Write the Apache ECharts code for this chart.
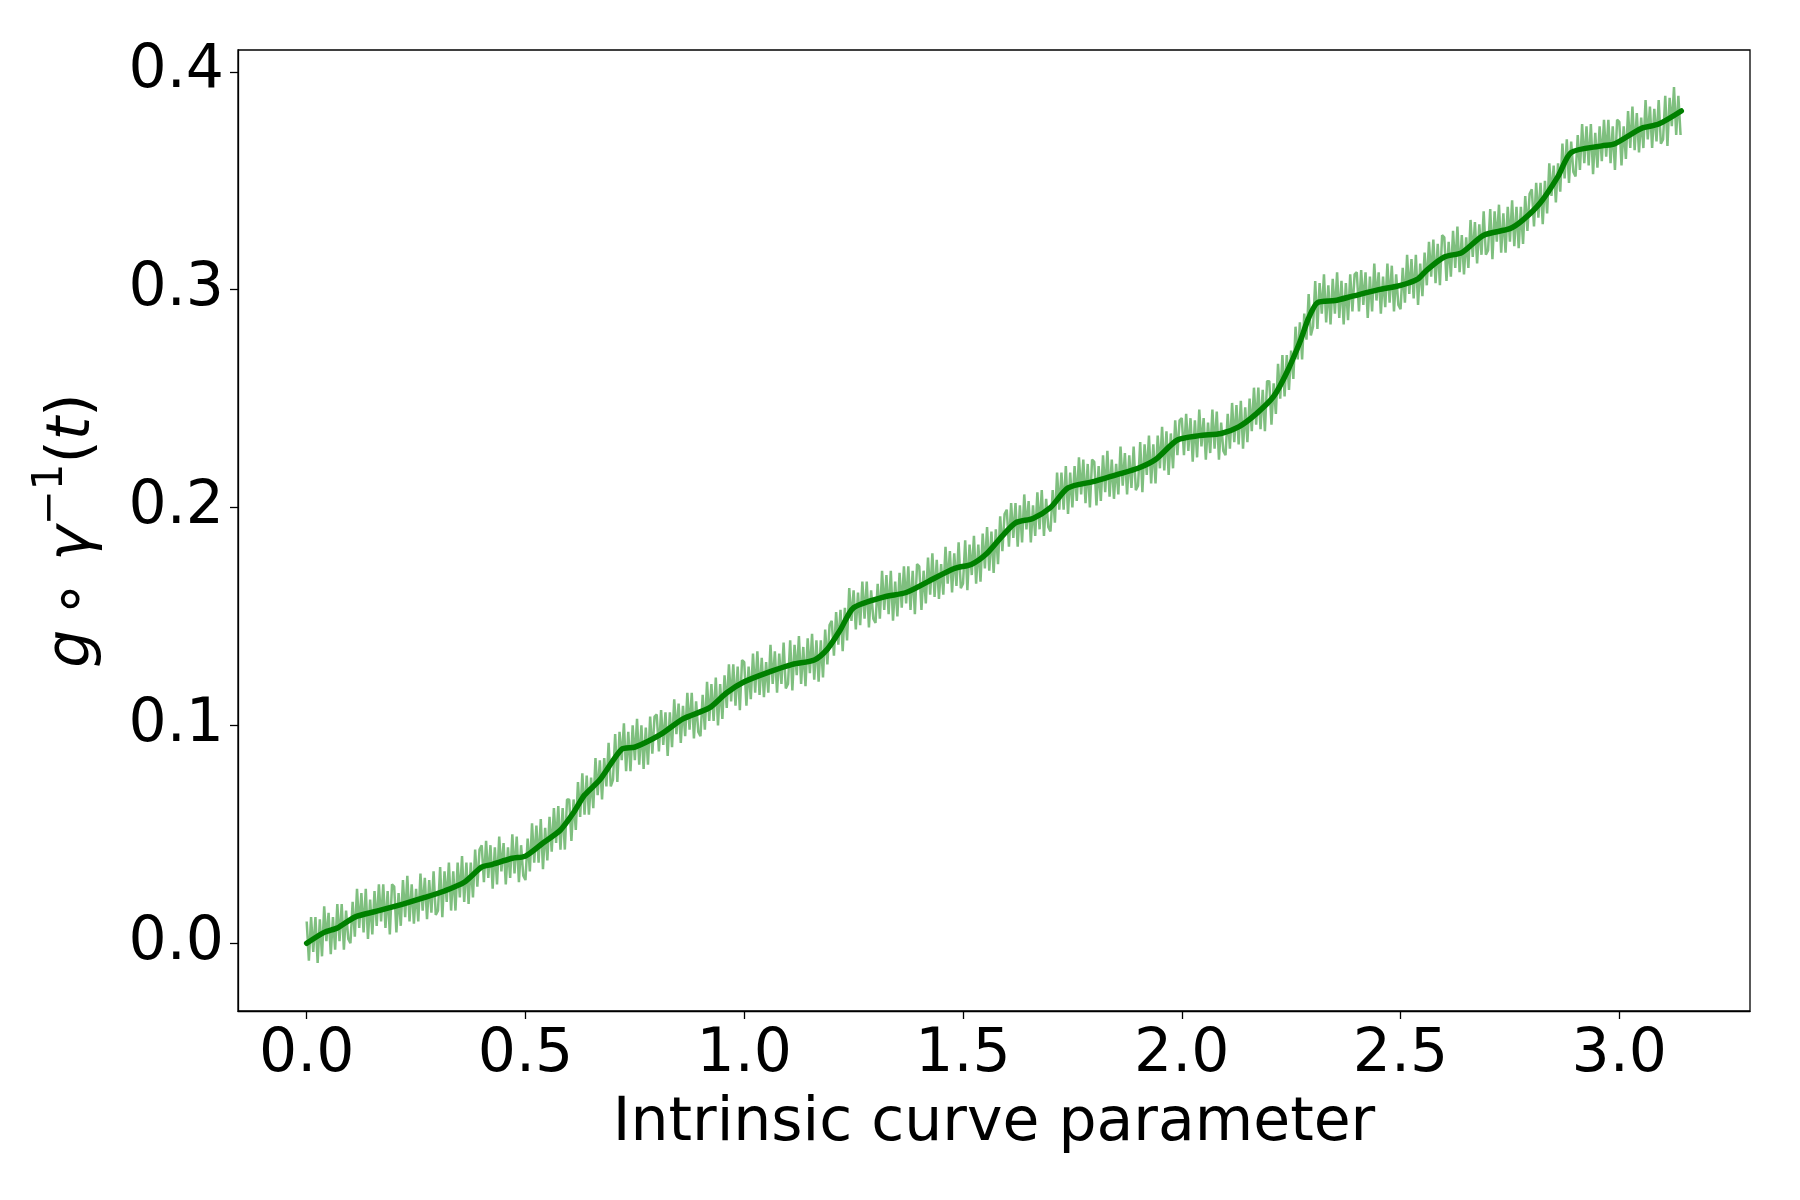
<!DOCTYPE html>
<html>
<head>
<meta charset="utf-8">
<script src="https://cdn.jsdelivr.net/npm/echarts@6/dist/echarts.min.js"></script>
<style>
  html, body { margin: 0; padding: 0; background: #fff; }
  #curve { width: 1800px; height: 1200px; }
</style>
</head>
<body>
<div id="curve"></div>
<script>
// tick labels
const xTicks = [0.0, 0.5, 1.0, 1.5, 2.0, 2.5, 3.0];
const yTicks = [0.0, 0.1, 0.2, 0.3, 0.4];

// smoothed curve
const smoothT = [0.00, 0.04, 0.07, 0.11, 0.16, 0.22, 0.27, 0.315, 0.36, 0.40, 0.42, 0.47, 0.50, 0.54, 0.58, 0.61, 0.635, 0.67,
  0.72, 0.75, 0.81, 0.86, 0.92, 0.96, 1.00, 1.05, 1.11, 1.16, 1.19, 1.22, 1.25, 1.32, 1.37, 1.42, 1.48, 1.52, 1.555, 1.59,
  1.62, 1.66, 1.70, 1.74, 1.80, 1.85, 1.90, 1.94, 1.99, 2.04, 2.09, 2.13, 2.17, 2.21, 2.24, 2.27, 2.29, 2.31, 2.35, 2.39,
  2.45, 2.50, 2.54, 2.56, 2.60, 2.64, 2.69, 2.75, 2.78, 2.82, 2.86, 2.89, 2.96, 2.99, 3.05, 3.09, 3.1416];
const smoothV = [0.000, 0.005, 0.007, 0.012, 0.0147, 0.018, 0.021, 0.024, 0.028, 0.035, 0.036, 0.039, 0.040, 0.046, 0.052, 0.060, 0.068, 0.075,
  0.089, 0.090, 0.096, 0.103, 0.108, 0.115, 0.120, 0.124, 0.128, 0.130, 0.135, 0.144, 0.154, 0.159, 0.161, 0.166, 0.172, 0.174, 0.179, 0.187,
  0.193, 0.195, 0.200, 0.209, 0.212, 0.215, 0.218, 0.222, 0.231, 0.233, 0.234, 0.237, 0.243, 0.251, 0.262, 0.276, 0.287, 0.294, 0.295, 0.297,
  0.300, 0.302, 0.305, 0.309, 0.315, 0.317, 0.325, 0.328, 0.332, 0.340, 0.352, 0.363, 0.366, 0.367, 0.374, 0.376, 0.382];

// raw noisy samples, one every 0.005 from t = 0
const noisyStep = 0.005;
const noisyV = [
  0.010, -0.008, 0.012, -0.004, 0.012, -0.009, 0.011, -0.006, 0.017, 0.001, 0.014, -0.005, 0.012, -0.003, 0.018, 0.001, 0.018, -0.003, 0.015, 0.002,
  0.000, 0.019, 0.003, 0.025, 0.007, 0.023, 0.005, 0.025, 0.002, 0.020, 0.004, 0.024, 0.008, 0.027, 0.010, 0.027, 0.007, 0.024, 0.004, 0.027,
  0.026, 0.005, 0.023, 0.008, 0.029, 0.012, 0.031, 0.010, 0.027, 0.009, 0.025, 0.010, 0.032, 0.015, 0.030, 0.011, 0.029, 0.014, 0.033, 0.013,
  0.015, 0.035, 0.012, 0.033, 0.019, 0.037, 0.015, 0.033, 0.015, 0.037, 0.021, 0.040, 0.019, 0.037, 0.018, 0.037, 0.021, 0.043, 0.026, 0.043,
  0.045, 0.028, 0.047, 0.030, 0.045, 0.025, 0.044, 0.027, 0.049, 0.033, 0.046, 0.027, 0.044, 0.030, 0.050, 0.032, 0.049, 0.028, 0.045, 0.031,
  0.029, 0.048, 0.033, 0.055, 0.037, 0.054, 0.037, 0.057, 0.034, 0.053, 0.038, 0.058, 0.042, 0.062, 0.046, 0.063, 0.043, 0.062, 0.043, 0.066,
  0.066, 0.047, 0.066, 0.052, 0.074, 0.058, 0.078, 0.059, 0.077, 0.059, 0.076, 0.062, 0.085, 0.068, 0.084, 0.066, 0.085, 0.072, 0.092, 0.072,
  0.075, 0.096, 0.074, 0.097, 0.084, 0.101, 0.079, 0.097, 0.079, 0.100, 0.084, 0.103, 0.082, 0.100, 0.080, 0.099, 0.082, 0.104, 0.087, 0.104,
  0.105, 0.088, 0.107, 0.091, 0.106, 0.086, 0.106, 0.090, 0.112, 0.096, 0.110, 0.092, 0.109, 0.095, 0.115, 0.098, 0.115, 0.094, 0.111, 0.097,
  0.095, 0.114, 0.098, 0.120, 0.102, 0.119, 0.102, 0.122, 0.100, 0.119, 0.103, 0.123, 0.108, 0.128, 0.111, 0.128, 0.109, 0.127, 0.107, 0.130,
  0.129, 0.109, 0.127, 0.112, 0.133, 0.115, 0.134, 0.114, 0.131, 0.113, 0.129, 0.115, 0.137, 0.119, 0.134, 0.115, 0.133, 0.119, 0.138, 0.117,
  0.119, 0.139, 0.116, 0.137, 0.123, 0.141, 0.119, 0.136, 0.118, 0.140, 0.124, 0.142, 0.121, 0.139, 0.120, 0.139, 0.122, 0.144, 0.128, 0.146,
  0.148, 0.132, 0.152, 0.137, 0.153, 0.134, 0.154, 0.139, 0.163, 0.148, 0.162, 0.144, 0.161, 0.146, 0.166, 0.149, 0.166, 0.145, 0.162, 0.149,
  0.147, 0.165, 0.149, 0.171, 0.153, 0.169, 0.151, 0.171, 0.148, 0.166, 0.150, 0.170, 0.154, 0.173, 0.156, 0.173, 0.153, 0.171, 0.151, 0.174,
  0.173, 0.153, 0.171, 0.156, 0.177, 0.160, 0.179, 0.159, 0.176, 0.158, 0.174, 0.160, 0.182, 0.165, 0.180, 0.161, 0.179, 0.164, 0.184, 0.163,
  0.165, 0.185, 0.162, 0.183, 0.169, 0.187, 0.165, 0.183, 0.166, 0.188, 0.172, 0.191, 0.171, 0.189, 0.170, 0.190, 0.174, 0.196, 0.180, 0.197,
  0.199, 0.182, 0.202, 0.186, 0.202, 0.182, 0.201, 0.184, 0.206, 0.190, 0.203, 0.184, 0.201, 0.187, 0.207, 0.190, 0.208, 0.187, 0.204, 0.191,
  0.189, 0.208, 0.193, 0.216, 0.199, 0.216, 0.199, 0.219, 0.197, 0.216, 0.200, 0.219, 0.203, 0.223, 0.206, 0.222, 0.202, 0.220, 0.200, 0.222,
  0.221, 0.201, 0.219, 0.203, 0.224, 0.207, 0.226, 0.205, 0.222, 0.204, 0.220, 0.206, 0.228, 0.210, 0.225, 0.206, 0.224, 0.209, 0.228, 0.208,
  0.210, 0.230, 0.207, 0.229, 0.215, 0.233, 0.211, 0.229, 0.211, 0.233, 0.218, 0.237, 0.217, 0.235, 0.215, 0.234, 0.218, 0.240, 0.224, 0.240,
  0.241, 0.224, 0.243, 0.226, 0.241, 0.221, 0.240, 0.223, 0.245, 0.228, 0.241, 0.222, 0.239, 0.225, 0.245, 0.227, 0.244, 0.222, 0.239, 0.226,
  0.224, 0.243, 0.227, 0.248, 0.230, 0.247, 0.229, 0.249, 0.227, 0.246, 0.230, 0.250, 0.235, 0.255, 0.238, 0.255, 0.236, 0.254, 0.235, 0.258,
  0.258, 0.238, 0.257, 0.243, 0.266, 0.250, 0.270, 0.251, 0.270, 0.254, 0.272, 0.259, 0.283, 0.268, 0.285, 0.268, 0.289, 0.277, 0.298, 0.279,
  0.283, 0.304, 0.282, 0.303, 0.289, 0.307, 0.285, 0.302, 0.284, 0.305, 0.289, 0.308, 0.287, 0.304, 0.284, 0.303, 0.286, 0.307, 0.290, 0.307,
  0.308, 0.290, 0.309, 0.293, 0.308, 0.287, 0.306, 0.290, 0.312, 0.295, 0.308, 0.289, 0.306, 0.292, 0.312, 0.294, 0.311, 0.290, 0.307, 0.293,
  0.291, 0.310, 0.294, 0.316, 0.298, 0.314, 0.296, 0.316, 0.293, 0.312, 0.297, 0.317, 0.302, 0.322, 0.306, 0.323, 0.303, 0.321, 0.302, 0.325,
  0.324, 0.304, 0.322, 0.306, 0.327, 0.310, 0.329, 0.308, 0.325, 0.307, 0.324, 0.310, 0.332, 0.315, 0.331, 0.312, 0.330, 0.316, 0.336, 0.316,
  0.318, 0.337, 0.314, 0.336, 0.322, 0.339, 0.317, 0.335, 0.317, 0.338, 0.322, 0.341, 0.320, 0.338, 0.319, 0.338, 0.321, 0.343, 0.327, 0.344,
  0.346, 0.329, 0.349, 0.333, 0.349, 0.330, 0.350, 0.335, 0.358, 0.343, 0.357, 0.340, 0.358, 0.345, 0.367, 0.351, 0.369, 0.349, 0.368, 0.354,
  0.352, 0.371, 0.355, 0.376, 0.358, 0.375, 0.357, 0.376, 0.353, 0.372, 0.356, 0.375, 0.359, 0.378, 0.361, 0.378, 0.358, 0.375, 0.355, 0.378,
  0.377, 0.357, 0.375, 0.360, 0.382, 0.365, 0.384, 0.364, 0.381, 0.363, 0.379, 0.365, 0.387, 0.369, 0.384, 0.365, 0.383, 0.368, 0.387, 0.367,
  0.369, 0.389, 0.366, 0.388, 0.375, 0.393, 0.371, 0.389, 0.371
];

const font = 'DejaVu Sans';
const chart = echarts.init(document.getElementById('curve'));

const option = {
  animation: false,
  backgroundColor: '#fff',
  grid: {
    left: 238, right: 50, top: 50, bottom: 189,
    show: true, borderColor: '#000', borderWidth: 1.3, backgroundColor: 'transparent'
  },
  xAxis: {
    type: 'value',
    min: -0.157, max: 3.2987,
    name: 'Intrinsic curve parameter',
    nameLocation: 'middle',
    nameGap: 83,
    nameTextStyle: { fontFamily: font, fontSize: 60, color: '#000' },
    splitLine: { show: false },
    axisLine: { show: true, onZero: false, lineStyle: { color: '#000', width: 1.3 } },
    axisTick: { show: true, length: 8, customValues: xTicks, lineStyle: { color: '#000', width: 1.3 } },
    axisLabel: {
      customValues: xTicks, margin: 14,
      fontFamily: font, fontSize: 60, color: '#000',
      formatter: v => v.toFixed(1)
    }
  },
  yAxis: {
    type: 'value',
    min: -0.0311, max: 0.41,
    name: '{i|g}\u2009∘ {i|γ}{s|−1}({i|t})',
    nameLocation: 'middle',
    nameRotate: 90,
    nameGap: 116,
    nameTextStyle: {
      fontFamily: font, fontSize: 60, color: '#000', lineHeight: 88,
      rich: {
        i: { fontFamily: font, fontStyle: 'italic', fontSize: 60, color: '#000', lineHeight: 88 },
        s: { fontFamily: font, fontSize: 42, color: '#000', verticalAlign: 'top', lineHeight: 42 }
      }
    },
    splitLine: { show: false },
    axisLine: { show: true, onZero: false, lineStyle: { color: '#000', width: 1.3 } },
    axisTick: { show: true, length: 8, customValues: yTicks, lineStyle: { color: '#000', width: 1.3 } },
    axisLabel: {
      customValues: yTicks, margin: 14,
      fontFamily: font, fontSize: 60, color: '#000',
      formatter: v => v.toFixed(1)
    }
  },
  series: [
    {
      type: 'line',
      data: noisyV.map((v, i) => [i * noisyStep, v]),
      showSymbol: false,
      lineStyle: { color: 'rgba(0,128,0,0.5)', width: 2.5 },
      z: 1
    },
    {
      type: 'line',
      data: smoothT.map((t, i) => [t, smoothV[i]]),
      showSymbol: false,
      smooth: 0.25,
      lineStyle: { color: '#008000', width: 5.5, join: 'round', cap: 'round' },
      z: 2
    }
  ]
};

chart.setOption(option);
</script>
</body>
</html>
